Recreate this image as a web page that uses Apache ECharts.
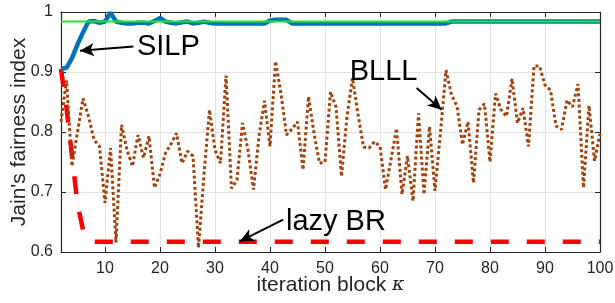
<!DOCTYPE html>
<html><head><meta charset="utf-8">
<script src="https://cdn.jsdelivr.net/npm/echarts@6/dist/echarts.min.js"></script>
<style>html,body{margin:0;padding:0;background:#fff}#c{width:615px;height:303px}</style>
</head><body><div id="c"></div>
<script>
// iteration blocks kappa
const blocks = [2,3,4,5,6,7,8,9,10,11,12,13,14,15,16,17,18,19,20,21,22,23,24,25,26,27,28,29,30,31,32,33,34,35,36,37,38,39,40,41,42,43,44,45,46,47,48,49,50,51,52,53,54,55,56,57,58,59,60,61,62,63,64,65,66,67,68,69,70,71,72,73,74,75,76,77,78,79,80,81,82,83,84,85,86,87,88,89,90,91,92,93,94,95,96,97,98,99,100];
const silp = [0.905,0.907,0.923,0.946,0.966,0.984,0.985,0.982,0.984,0.999,
  0.984,0.982,0.981,0.981,0.982,0.982,0.981,0.985,0.990,0.984,
  0.982,0.981,0.983,0.984,0.981,0.982,0.984,0.982,0.981,0.981,
  0.981,0.981,0.981,0.981,0.981,0.981,0.981,0.981,0.986,0.987,
  0.987,0.987,0.981,0.981,0.981,0.981,0.981,0.981,0.981,0.981,
  0.981,0.981,0.981,0.981,0.981,0.981,0.981,0.981,0.981,0.981,
  0.981,0.981,0.981,0.981,0.981,0.981,0.981,0.981,0.981,0.981,
  0.981,0.984,0.984,0.984,0.984,0.984,0.984,0.984,0.984,0.984,
  0.984,0.984,0.984,0.984,0.984,0.984,0.984,0.984,0.984,0.984,
  0.984,0.984,0.984,0.984,0.984,0.984,0.984,0.984,0.984];
const blll = [0.817,0.886,0.743,0.800,0.856,0.826,0.787,0.776,0.682,0.773,
  0.616,0.812,0.770,0.743,0.795,0.757,0.793,0.707,0.730,0.765,
  0.780,0.798,0.748,0.768,0.760,0.607,0.730,0.837,0.770,0.748,
  0.894,0.706,0.720,0.815,0.770,0.704,0.793,0.852,0.776,0.918,
  0.864,0.795,0.805,0.817,0.737,0.859,0.798,0.748,0.750,0.867,
  0.842,0.726,0.826,0.890,0.830,0.775,0.773,0.784,0.776,0.704,
  0.754,0.806,0.696,0.760,0.685,0.831,0.696,0.809,0.702,0.800,
  0.903,0.862,0.843,0.779,0.817,0.715,0.837,0.847,0.750,0.864,
  0.837,0.826,0.889,0.815,0.840,0.776,0.910,0.910,0.878,0.870,
  0.810,0.804,0.853,0.842,0.880,0.707,0.844,0.752,0.797];
const lazyBR = [0.905,0.840,0.760,0.680,0.637,0.622,0.617,0.617,0.617,0.617,
  0.617,0.617,0.617,0.617,0.617,0.617,0.617,0.617,0.617,0.617,
  0.617,0.617,0.617,0.617,0.617,0.617,0.617,0.617,0.617,0.617,
  0.617,0.617,0.617,0.617,0.617,0.617,0.617,0.617,0.617,0.617,
  0.617,0.617,0.617,0.617,0.617,0.617,0.617,0.617,0.617,0.617,
  0.617,0.617,0.617,0.617,0.617,0.617,0.617,0.617,0.617,0.617,
  0.617,0.617,0.617,0.617,0.617,0.617,0.617,0.617,0.617,0.617,
  0.617,0.617,0.617,0.617,0.617,0.617,0.617,0.617,0.617,0.617,
  0.617,0.617,0.617,0.617,0.617,0.617,0.617,0.617,0.617,0.617,
  0.617,0.617,0.617,0.617,0.617,0.617,0.617,0.617,0.617];
const optimum = 0.984;
const xTicks = [10,20,30,40,50,60,70,80,90,100];
const yTicks = [0.6,0.7,0.8,0.9,1];

const FONT = 'Liberation Sans, Arial, Helvetica, sans-serif';
const AX = '#262626';
const zip = (a) => blocks.map((x,i)=>[x,a[i]]);

const chart = echarts.init(document.getElementById('c'), null, {renderer:'canvas'});
const axisLineStyle = {show:true, lineStyle:{color:AX, width:1.2}};
const tickStyle = {show:true, inside:true, length:5, lineStyle:{color:AX, width:1}};
chart.setOption({
  animation:false,
  grid:{left:61, right:15, top:12, bottom:51, containLabel:false, outerBoundsMode:'none'},
  xAxis:[{
    type:'value', min:2, max:100, position:'bottom',
    axisLine:axisLineStyle,
    axisTick:Object.assign({customValues:xTicks}, tickStyle),
    axisLabel:{customValues:xTicks, color:AX, fontFamily:FONT, fontSize:16, margin:9},
    splitLine:{show:true, lineStyle:{color:'#e3e3e3', width:1}},
    name:'iteration block {k|κ}', nameLocation:'middle', nameGap:23, nameMoveOverlap:false,
    nameTextStyle:{color:AX, fontFamily:FONT, fontSize:21, verticalAlign:'top',
      rich:{k:{fontFamily:'DejaVu Serif, serif', fontStyle:'italic', fontSize:19, color:AX}}}
  },{
    type:'value', min:2, max:100, position:'top',
    axisLine:axisLineStyle,
    axisTick:Object.assign({customValues:xTicks}, tickStyle),
    axisLabel:{show:false}, splitLine:{show:false}
  }],
  yAxis:[{
    type:'value', min:0.6, max:1, interval:0.1,
    axisLine:axisLineStyle, axisTick:tickStyle,
    axisLabel:{color:AX, fontFamily:FONT, fontSize:16, margin:8},
    splitLine:{show:true, lineStyle:{color:'#e3e3e3', width:1}},
    name:"Jain's fairness index", nameLocation:'middle', nameGap:31, nameMoveOverlap:false,
    nameTextStyle:{color:AX, fontFamily:FONT, fontSize:21}
  },{
    type:'value', min:0.6, max:1, interval:0.1, position:'right',
    axisLine:axisLineStyle, axisTick:tickStyle,
    axisLabel:{show:false}, splitLine:{show:false}
  }],
  series:[
    {name:'lazy BR', type:'line', data:zip(lazyBR), symbol:'none', z:2,
     lineStyle:{color:'#ff0000', width:4.5, type:[18,18], cap:'butt'}},
    {name:'BLLL', type:'line', data:zip(blll), symbol:'none', z:3,
     lineStyle:{color:'#a3420d', width:3, type:[3,2.6], cap:'butt'}},
    {name:'SILP', type:'line', data:zip(silp), symbol:'none', z:4,
     lineStyle:{color:'#0072bd', width:4.5}},
    {name:'optimum', type:'line', data:[[blocks[0],optimum],[blocks[blocks.length-1],optimum]],
     symbol:'none', z:5, lineStyle:{color:'#22e622', width:2},
     markLine:{silent:true, symbol:['none','arrow'], symbolSize:[10,14],
       lineStyle:{color:'#000', width:2, type:'solid'}, label:{show:false},
       data:[
         [{coord:[15.15,0.9427]},{coord:[5.45,0.9355]}],
         [{coord:[66.67,0.8733]},{coord:[71.2,0.837]}],
         [{coord:[42.4,0.654]},{coord:[34.5,0.6177]}]
       ]}}
  ]
});

const notes = [
  {t:'SILP', x:15.8, y:0.942},
  {t:'BLLL', x:54.5, y:0.8997},
  {t:'lazy BR', x:42.9, y:0.6497}
];
chart.setOption({graphic: notes.map(n=>{
  const p = chart.convertToPixel({xAxisIndex:0, yAxisIndex:0},[n.x,n.y]);
  return {type:'text', x:p[0], y:p[1], z:100,
    style:{text:n.t, fill:'#000', font:'29px '+FONT, textAlign:'left', textVerticalAlign:'middle', verticalAlign:'middle'}};
})});
</script>
</body></html>
